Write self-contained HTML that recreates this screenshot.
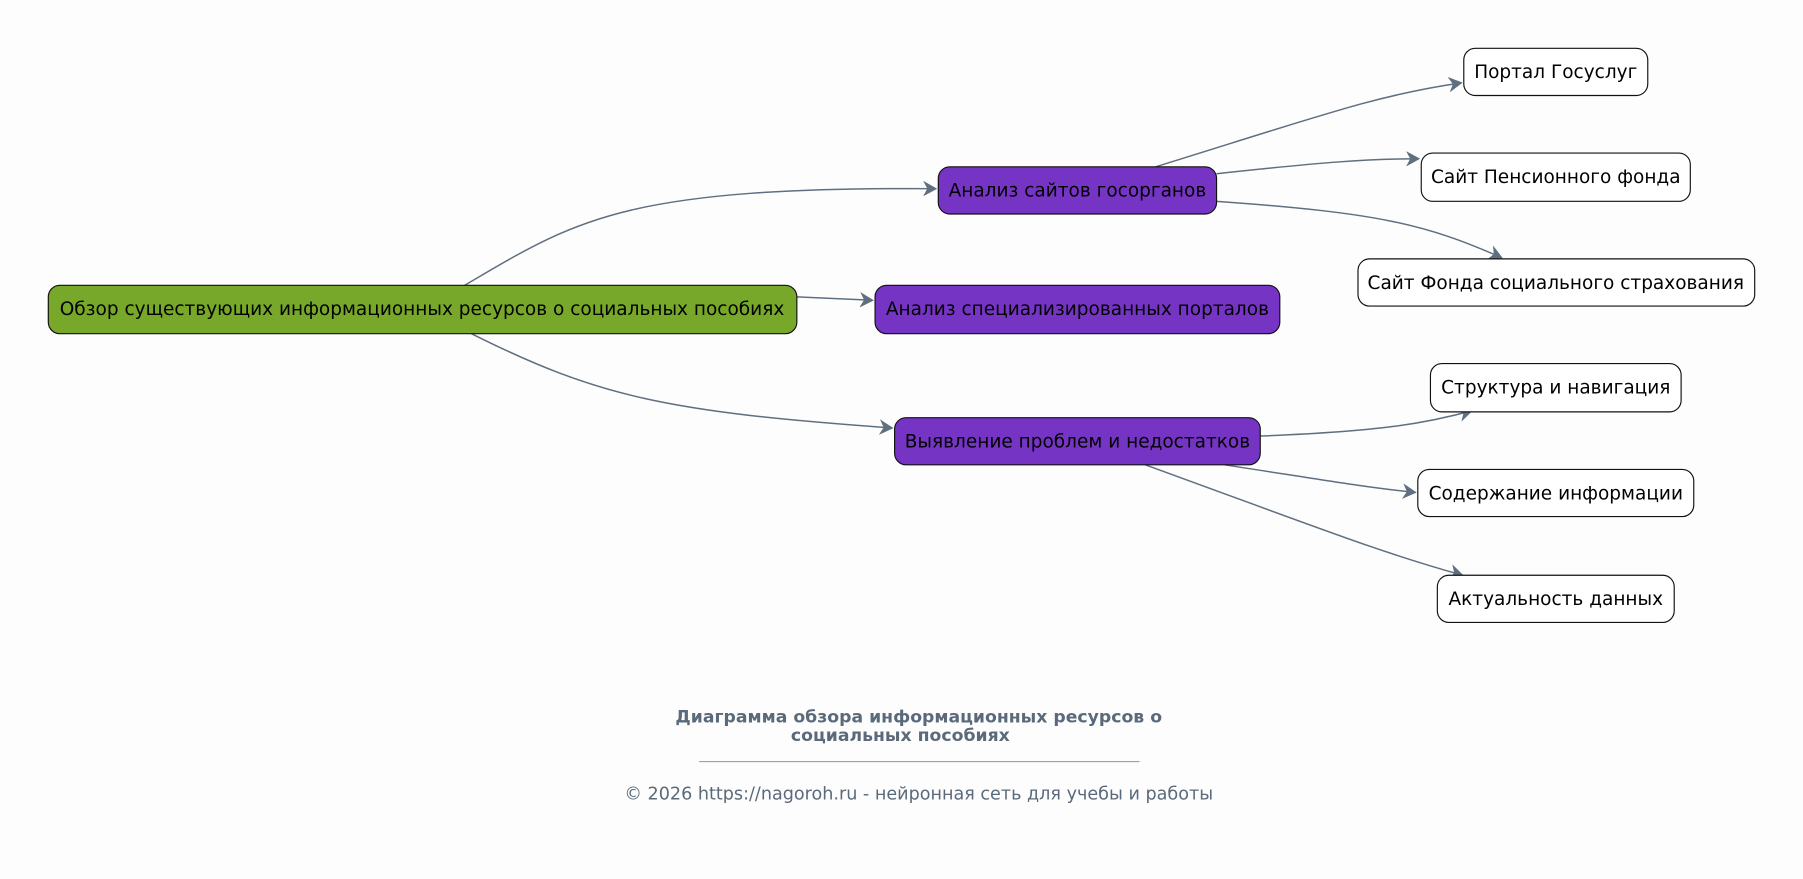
<!DOCTYPE html>
<html><head><meta charset="utf-8"><style>
html,body{margin:0;padding:0;background:#fdfdfd;}
svg{display:block;}
text{font-family:"DejaVu Sans","Liberation Sans",sans-serif;}
</style></head><body>
<svg width="1803" height="879" viewBox="0 0 1568 764" preserveAspectRatio="none" xmlns="http://www.w3.org/2000/svg">
<defs><marker id="a" markerWidth="14" markerHeight="14" refX="11" refY="7" orient="auto" markerUnits="userSpaceOnUse"><path d="M1,1.5 L11,7 L1,12.5 L4,7 Z" fill="#5f6f80" stroke="#5f6f80" stroke-width="1"/></marker></defs>
<rect width="1568" height="764" fill="#fdfdfd"/>
<g fill="none" stroke="#5f6f80" stroke-width="1.3" marker-end="url(#a)">
<path d="M404,248 C500,192 540,162 814,164"/>
<path d="M693,258 L759,261"/>
<path d="M410,290 C520,345 580,358 776,372"/>
<path d="M1005,145 C1150,100 1200,82 1271,72"/>
<path d="M1058,151 C1150,141 1190,138 1234,138"/>
<path d="M1058,175 C1200,185 1240,195 1306,224"/>
<path d="M1096,379 C1200,375 1240,368 1280,357"/>
<path d="M1065,404 C1150,417 1190,424 1231,428"/>
<path d="M996,404 C1150,460 1200,480 1272,500"/>
</g>
<g stroke="#111" stroke-width="1">
<rect x="42" y="248" width="651" height="42" rx="10" fill="#77a82a"/>
<rect x="816" y="145" width="242" height="41" rx="10" fill="#7634c4"/>
<rect x="761" y="248" width="352" height="42" rx="10" fill="#7634c4"/>
<rect x="778" y="363" width="318" height="41" rx="10" fill="#7634c4"/>
<rect x="1273" y="42" width="160" height="41" rx="10" fill="#fff"/>
<rect x="1236" y="133" width="234" height="42" rx="10" fill="#fff"/>
<rect x="1181" y="225" width="345" height="41" rx="10" fill="#fff"/>
<rect x="1244" y="316" width="218" height="42" rx="10" fill="#fff"/>
<rect x="1233" y="408" width="240" height="41" rx="10" fill="#fff"/>
<rect x="1250" y="500" width="206" height="41" rx="10" fill="#fff"/>
</g>
<g font-size="16.1" fill="#000" text-anchor="middle">
<text x="367" y="274">Обзор существующих информационных ресурсов о социальных пособиях</text>
<text x="937" y="171">Анализ сайтов госорганов</text>
<text x="937" y="274">Анализ специализированных порталов</text>
<text x="937" y="389">Выявление проблем и недостатков</text>
<text x="1353" y="68">Портал Госуслуг</text>
<text x="1353" y="159">Сайт Пенсионного фонда</text>
<text x="1353" y="251">Сайт Фонда социального страхования</text>
<text x="1353" y="342">Структура и навигация</text>
<text x="1353" y="434">Содержание информации</text>
<text x="1353" y="526">Актуальность данных</text>
</g>
<g fill="#5a6a7a" text-anchor="middle">
<text x="799" y="628" font-size="15" font-weight="bold">Диаграмма обзора информационных ресурсов о</text>
<text x="783" y="644" font-size="15" font-weight="bold">социальных пособиях</text>
<line x1="608" y1="662" x2="991" y2="662" stroke="#8a96a2" stroke-width="0.8"/>
<text x="799" y="695" font-size="15.3">© 2026 https://nagoroh.ru - нейронная сеть для учебы и работы</text>
</g>
</svg>
</body></html>
